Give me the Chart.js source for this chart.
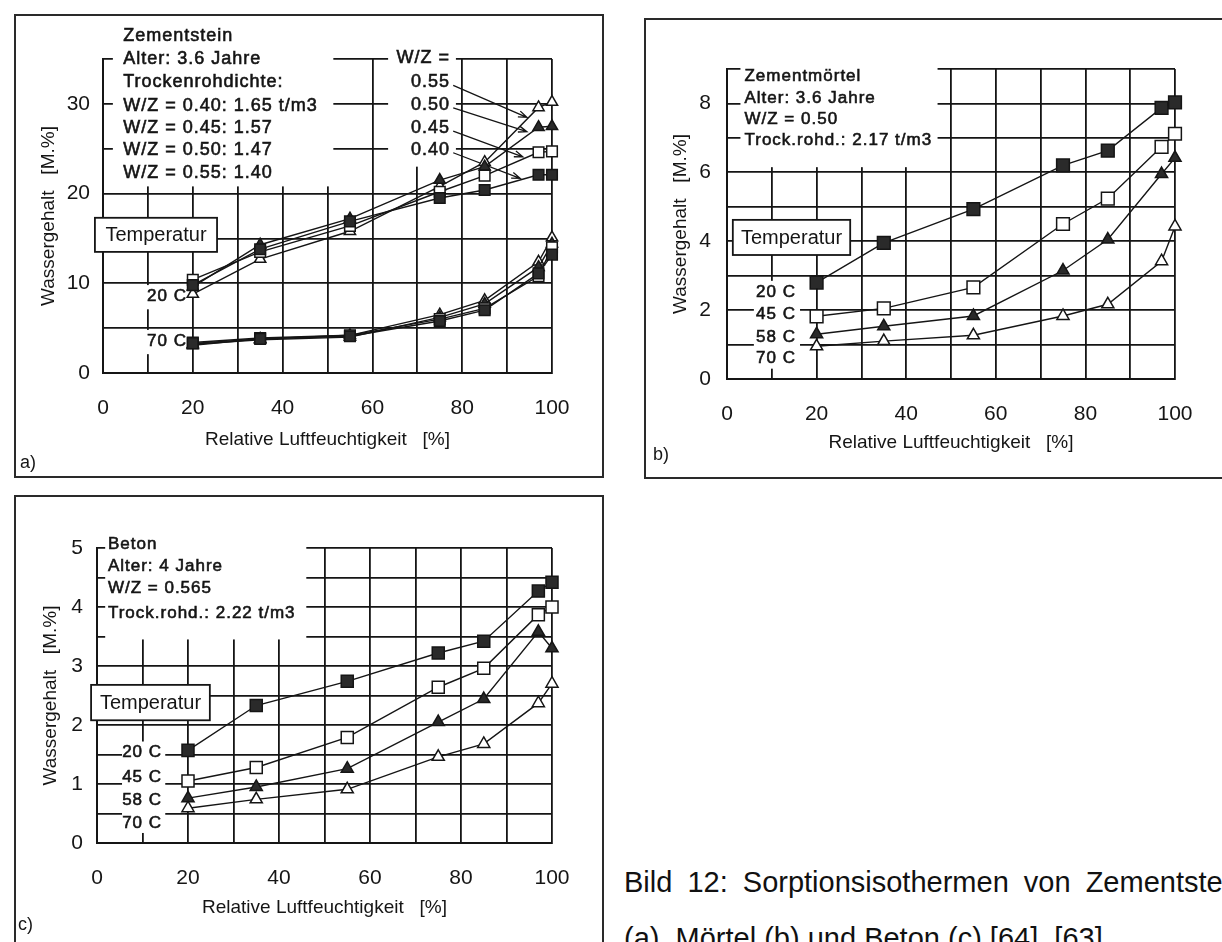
<!DOCTYPE html>
<html>
<head>
<meta charset="utf-8">
<script src="https://cdn.jsdelivr.net/npm/chart.js@4.4.1/dist/chart.umd.min.js"></script>
<style>
  html, body { margin: 0; padding: 0; background: #fff; width: 1222px; height: 942px; overflow: hidden; }
  body { position: relative; font-family: "Liberation Sans", Arial, sans-serif; color: #151515; }
  .frame { position: absolute; border: 2px solid #2a2a2a; box-sizing: border-box; }
  .panel { position: absolute; }
  .tag { position: absolute; font-size: 18px; }
  .caption { position: absolute; left: 624px; font-size: 29px; line-height: 48px; white-space: nowrap; color: #111; }
</style>
</head>
<body>
<div class="frame" style="left:14px;top:14px;width:590px;height:464px"></div>
<div class="frame" style="left:644px;top:18px;width:600px;height:461px"></div>
<div class="frame" style="left:14px;top:495px;width:590px;height:470px"></div>

<div class="panel" style="left:0;top:0;width:610px;height:490px"><canvas id="chartA"></canvas></div>
<div class="panel" style="left:610px;top:0;width:612px;height:490px"><canvas id="chartB"></canvas></div>
<div class="panel" style="left:0;top:490px;width:610px;height:452px"><canvas id="chartC"></canvas></div>

<div class="tag" style="left:20px;top:452px">a)</div>
<div class="tag" style="left:653px;top:444px">b)</div>
<div class="tag" style="left:18px;top:914px">c)</div>

<div class="caption" style="top:858px;word-spacing:7px">Bild 12: Sorptionsisothermen von Zementstein</div>
<div class="caption" style="top:914px">(a), Mörtel (b) und Beton (c) [64], [63].</div>

<script>
// relative humidity steps used in all three tests
const rh = [20, 35, 55, 75, 85, 97, 100];

// a) Zementstein, one curve per W/Z, at 20 C and 70 C
const zs20_040 = [9.8, 13.8, 16.9, 19.5, 20.4, 22.1, 22.1];
const zs20_045 = [10.4, 13.5, 16.4, 20.2, 22.0, 24.6, 24.7];
const zs20_050 = [9.6, 14.3, 17.2, 21.5, 23.0, 27.4, 27.5];
const zs20_055 = [8.8, 12.7, 15.8, 20.8, 23.5, 29.6, 30.2];
const zs70_040 = [3.3, 3.8, 4.1, 5.8, 7.0, 11.1, 13.2];
const zs70_045 = [3.4, 3.9, 4.2, 6.0, 7.2, 10.8, 14.0];
const zs70_050 = [3.2, 3.7, 4.0, 6.2, 7.7, 11.8, 14.4];
const zs70_055 = [3.1, 3.8, 4.2, 6.5, 8.1, 12.4, 15.1];

// b) Zementmörtel, one curve per temperature
const zm20 = [2.8, 3.95, 4.93, 6.2, 6.63, 7.87, 8.03];
const zm45 = [1.82, 2.05, 2.66, 4.5, 5.24, 6.74, 7.12];
const zm58 = [1.3, 1.53, 1.83, 3.15, 4.05, 5.95, 6.42];
const zm70 = [0.95, 1.1, 1.27, 1.83, 2.17, 3.42, 4.43];

// c) Beton, one curve per temperature
const bt20 = [1.57, 2.33, 2.74, 3.22, 3.42, 4.27, 4.42];
const bt45 = [1.05, 1.28, 1.79, 2.64, 2.96, 3.87, 4.0];
const bt58 = [0.76, 0.95, 1.26, 2.05, 2.44, 3.58, 3.3];
const bt70 = [0.59, 0.74, 0.91, 1.46, 1.68, 2.37, 2.7];

const xTicks = [0, 20, 40, 60, 80, 100];
const yTicksA = [0, 10, 20, 30];
const yTicksB = [0, 2, 4, 6, 8];
const yTicksC = [0, 1, 2, 3, 4, 5];

const infoA = ['Zementstein', 'Alter: 3.6 Jahre', 'Trockenrohdichte:', 'W/Z = 0.40: 1.65 t/m3',
               'W/Z = 0.45: 1.57', 'W/Z = 0.50: 1.47', 'W/Z = 0.55: 1.40'];
const wzLabels = ['W/Z =', '0.55', '0.50', '0.45', '0.40'];
const infoB = ['Zementmörtel', 'Alter: 3.6 Jahre', 'W/Z = 0.50', 'Trock.rohd.: 2.17 t/m3'];
const infoC = ['Beton', 'Alter: 4 Jahre', 'W/Z = 0.565', 'Trock.rohd.: 2.22 t/m3'];
const tempsA = ['20 C', '70 C'];
const tempsBC = ['20 C', '45 C', '58 C', '70 C'];

const FONT = '"Liberation Sans", Arial, sans-serif';
const INK = '#151515';
const FILLED = '#2a2a2a';
const OPEN = '#ffffff';
Chart.defaults.font.family = FONT;
Chart.defaults.color = INK;

function series(values, style, fill, radius) {
    return {
        data: values.map((v, i) => ({ x: rh[i], y: v })),
        showLine: true,
        borderColor: INK,
        borderWidth: 1.4,
        pointStyle: style,
        pointRadius: radius,
        pointBackgroundColor: fill,
        pointBorderColor: INK,
        pointBorderWidth: 1.5,
        clip: false
    };
}

function column(lines, x, rows, size, align, spacing) {
    return lines.map((t, i) => ({ text: t, x: x, y: rows[i], size: size, align: align, spacing: spacing }));
}

// white patches, framed "Temperatur" label, pointer lines and texts, placed in data units
function notes(cfg) {
    return {
        id: 'notes',
        beforeDatasetsDraw(chart) {
            const ctx = chart.ctx;
            const X = v => chart.scales.x.getPixelForValue(v);
            const Y = v => chart.scales.y.getPixelForValue(v);
            ctx.save();
            ctx.fillStyle = '#fff';
            (cfg.blanks || []).forEach(b => {
                ctx.fillRect(X(b[0]), Y(b[3]), X(b[2]) - X(b[0]), Y(b[1]) - Y(b[3]));
            });

            const bd = cfg.badge;
            const bx0 = X(bd.x0), bx1 = X(bd.x1), by0 = Y(bd.y1), by1 = Y(bd.y0);
            ctx.fillRect(bx0, by0, bx1 - bx0, by1 - by0);
            ctx.strokeStyle = INK;
            ctx.lineWidth = 1.8;
            ctx.strokeRect(bx0, by0, bx1 - bx0, by1 - by0);
            ctx.fillStyle = INK;
            ctx.font = '20px ' + FONT;
            ctx.textAlign = 'center';
            ctx.textBaseline = 'middle';
            ctx.fillText(bd.text, (bx0 + bx1) / 2, (by0 + by1) / 2 + 1);

            ctx.lineWidth = 1.3;
            (cfg.pointers || []).forEach(p => {
                const x0 = X(p[0]), y0 = Y(p[1]), x1 = X(p[2]), y1 = Y(p[3]);
                ctx.beginPath();
                ctx.moveTo(x0, y0);
                ctx.lineTo(x1, y1);
                const a = Math.atan2(y1 - y0, x1 - x0);
                ctx.moveTo(x1 - 9 * Math.cos(a - 0.35), y1 - 9 * Math.sin(a - 0.35));
                ctx.lineTo(x1, y1);
                ctx.lineTo(x1 - 9 * Math.cos(a + 0.35), y1 - 9 * Math.sin(a + 0.35));
                ctx.stroke();
            });

            // the scanned typewriter text is heavier than a plain regular face
            ctx.lineWidth = 0.6;
            (cfg.texts || []).forEach(t => {
                ctx.font = t.size + 'px ' + FONT;
                ctx.letterSpacing = (t.spacing || 0) + 'px';
                ctx.textAlign = t.align;
                ctx.fillText(t.text, X(t.x), Y(t.y));
                ctx.strokeText(t.text, X(t.x), Y(t.y));
            });
            ctx.restore();
        }
    };
}

function scales(o) {
    const grid = { color: INK, lineWidth: 1.8, drawTicks: false };
    const border = { color: INK, width: 2 };
    return {
        x: {
            type: 'linear', min: 0, max: 100,
            ticks: { stepSize: 10, autoSkip: false, maxRotation: 0, padding: 23, font: { size: 21 }, color: INK,
                     callback: v => xTicks.includes(v) ? v : '' },
            grid: grid, border: border,
            title: { display: true, text: 'Relative Luftfeuchtigkeit   [%]', font: { size: 19 }, color: INK, padding: 0 },
            afterFit: s => { s.height = o.xH; }
        },
        y: {
            type: 'linear', min: 0, max: o.yMax,
            ticks: { stepSize: o.yStep, autoSkip: false, padding: o.yPad, font: { size: 21 }, color: INK,
                     callback: v => o.yLabels.includes(v) ? v : '' },
            grid: grid, border: border,
            title: { display: true, text: 'Wassergehalt   [M.%]', font: { size: 19 }, color: INK, padding: 0 },
            afterFit: s => { s.width = o.yW; }
        }
    };
}

function makeChart(id, datasets, sc, pad, cfg) {
    return new Chart(document.getElementById(id), {
        type: 'scatter',
        data: { datasets: datasets },
        options: {
            responsive: true,
            maintainAspectRatio: false,
            animation: false,
            events: [],
            layout: { padding: pad },
            scales: sc,
            plugins: { legend: { display: false }, tooltip: { enabled: false } }
        },
        plugins: [notes(cfg)]
    });
}

// a) Zementstein
makeChart('chartA', [
    series(zs70_040, 'rect', FILLED, 7.5),
    series(zs70_045, 'rect', OPEN, 7.5),
    series(zs70_050, 'triangle', FILLED, 6.5),
    series(zs70_055, 'triangle', OPEN, 6.5),
    series(zs20_040, 'rect', FILLED, 7.5),
    series(zs20_045, 'rect', OPEN, 7.5),
    series(zs20_050, 'triangle', FILLED, 6.5),
    series(zs20_055, 'triangle', OPEN, 6.5)
], scales({ yMax: 35, yStep: 5, yLabels: yTicksA, yPad: 13, yW: 66, xH: 78 }),
{ left: 37, right: 58, top: 59, bottom: 39 },
{
    blanks: [[2.2, 20.8, 51.3, 38.5], [63.5, 23, 78.6, 36.5], [7.6, 7.1, 19.4, 9.8], [7.6, 2.1, 19.4, 4.8]],
    badge: { x0: -1.8, x1: 25.4, y0: 13.5, y1: 17.3, text: 'Temperatur' },
    texts: [].concat(
        column(infoA, 4.5, [37.6, 35.0, 32.4, 29.8, 27.3, 24.8, 22.3], 18, 'left', 1),
        column(wzLabels, 77.3, [35.1, 32.4, 29.9, 27.3, 24.9], 18, 'right', 1),
        column(tempsA, 18.7, [8.5, 3.5], 17, 'right', 1)
    ),
    pointers: [[78, 32.05, 94.4, 28.5], [78, 29.55, 94.4, 26.9], [78, 26.95, 93.5, 24.1], [78, 24.55, 92.9, 21.7]]
});

// b) Zementmörtel
makeChart('chartB', [
    series(zm70, 'triangle', OPEN, 7),
    series(zm58, 'triangle', FILLED, 7),
    series(zm45, 'rect', OPEN, 9),
    series(zm20, 'rect', FILLED, 9)
], scales({ yMax: 9, yStep: 1, yLabels: yTicksB, yPad: 16, yW: 58, xH: 75 }),
{ left: 59, right: 47, top: 69, bottom: 36 },
{
    blanks: [[3, 6.15, 47, 9.3], [6, 0.3, 16.3, 2.85]],
    badge: { x0: 1.3, x1: 27.5, y0: 3.6, y1: 4.62, text: 'Temperatur' },
    texts: [].concat(
        column(infoB, 3.9, [8.8, 8.15, 7.55, 6.94], 17, 'left', 1),
        column(tempsBC, 15.4, [2.53, 1.89, 1.22, 0.61], 17, 'right', 1)
    )
});

// c) Beton
makeChart('chartC', [
    series(bt70, 'triangle', OPEN, 7),
    series(bt58, 'triangle', FILLED, 7),
    series(bt45, 'rect', OPEN, 8.5),
    series(bt20, 'rect', FILLED, 8.5)
], scales({ yMax: 5, yStep: 0.5, yLabels: yTicksC, yPad: 14, yW: 58, xH: 76 }),
{ left: 39, right: 58, top: 58, bottom: 23 },
{
    blanks: [[1.8, 3.45, 46, 5.3], [5.5, 0.17, 15, 1.72]],
    badge: { x0: -1.3, x1: 24.8, y0: 2.08, y1: 2.68, text: 'Temperatur' },
    texts: [].concat(
        column(infoC, 2.4, [5.07, 4.69, 4.31, 3.9], 17, 'left', 1),
        column(tempsBC, 14.3, [1.53, 1.12, 0.73, 0.34], 17, 'right', 1)
    )
});
</script>
</body>
</html>
